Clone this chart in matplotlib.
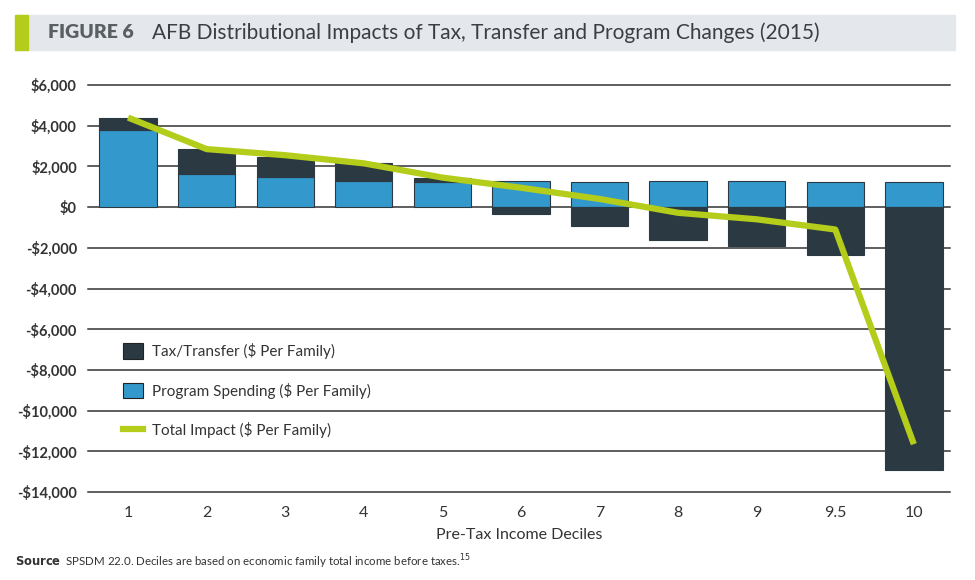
import matplotlib
matplotlib.use("Agg")
import matplotlib.pyplot as plt
from matplotlib.patches import Rectangle, Patch
from matplotlib.lines import Line2D

plt.rcParams['font.family'] = ['Lato', 'DejaVu Sans']

categories = ["1", "2", "3", "4", "5", "6", "7", "8", "9", "9.5", "10"]
program_spending = [3800, 1650, 1500, 1300, 1250, 1300, 1250, 1300, 1300, 1250, 1250]
tax_transfer = [600, 1200, 950, 850, 200, -350, -950, -1600, -1900, -2350, -12900]
total_impact = [4400, 2850, 2550, 2150, 1450, 950, 400, -280, -600, -1100, -11650]
y_ticks = [6000, 4000, 2000, 0, -2000, -4000, -6000, -8000, -10000, -12000, -14000]

BLUE = "#3399CC"
DARK = "#2B3A42"
GREEN = "#B4CC1A"
GRID = "#333333"

fig = plt.figure(figsize=(9.75, 5.8), dpi=100)

# Title banner
fig.patches.append(Rectangle((17/975, 1-50/580), (955-17)/975, 35/580,
                             transform=fig.transFigure, color="#E4E8EC", zorder=0))
fig.patches.append(Rectangle((15/975, 1-50/580), 13/975, 35/580,
                             transform=fig.transFigure, color="#B4CC1A", zorder=1))
fig.text(48/975, 1-33/580, "FIGURE 6", fontsize=14, fontweight="heavy",
         color="#5A5F64", va="center", ha="left")
fig.text(152/975, 1-33/580, "AFB Distributional Impacts of Tax, Transfer and Program Changes (2015)",
         fontsize=15, color="#3A3F44", va="center", ha="left")

ax = fig.add_axes([88/975, 1-492/580, (950-88)/975, (492-85)/580])
x = list(range(len(categories)))

for v in y_ticks:
    ax.axhline(v, color=GRID, lw=1.1, zorder=0, clip_on=False)

ax.bar(x, program_spending, width=0.73, color=BLUE, edgecolor=DARK, lw=0.8, zorder=2)
tax_bottom = [p if t > 0 else 0 for p, t in zip(program_spending, tax_transfer)]
ax.bar(x, tax_transfer, bottom=tax_bottom, width=0.73, color=DARK, edgecolor=DARK, lw=0.8, zorder=2)
ax.plot(x, total_impact, color=GREEN, lw=4.5, zorder=3, solid_capstyle="butt")

ax.set_xlim(-0.51, 10.46)
ax.set_ylim(-14000, 6000)
ax.set_yticks(y_ticks)
ax.set_yticklabels([("-$" if v < 0 else "$") + f"{abs(v):,}" for v in y_ticks],
                   fontsize=10.5, fontweight="bold", color="#333333")
ax.set_xticks(x)
ax.set_xticklabels(categories, fontsize=11.5, color="#333333")
ax.tick_params(axis="both", length=0, pad=8)
ax.tick_params(axis="x", pad=10)
for s in ax.spines.values():
    s.set_visible(False)
ax.set_xlabel("Pre-Tax Income Deciles", fontsize=11.5, color="#333333", labelpad=6)

handles = [Patch(facecolor=DARK, edgecolor="#222222", lw=0.8),
           Patch(facecolor=BLUE, edgecolor="#222222", lw=0.8),
           Line2D([0], [0], color=GREEN, lw=4.5)]
labels = ["Tax/Transfer ($ Per Family)", "Program Spending ($ Per Family)", "Total Impact ($ Per Family)"]
leg = ax.legend(handles, labels, loc="upper left", bbox_to_anchor=(0.025, 0.40),
                frameon=False, fontsize=11, labelspacing=1.55, handlelength=1.3,
                handleheight=1.2, handletextpad=0.6)
for t in leg.get_texts():
    t.set_color("#333333")

fig.text(15/975, 1-562/580, r"$\bf{Source}$  SPSDM 22.0. Deciles are based on economic family total income before taxes.$^{15}$",
         fontsize=8.3, color="#333333", va="center", ha="left")

fig.savefig("out.png", dpi=100)
